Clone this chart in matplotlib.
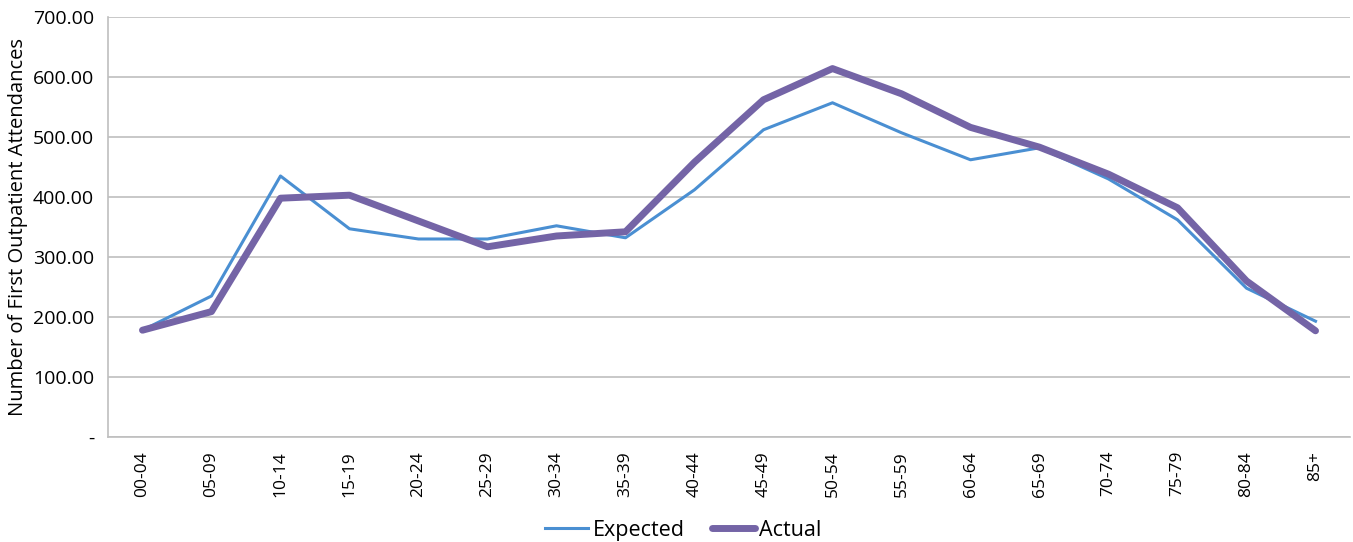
import numpy as np
import matplotlib.pyplot as plt
from matplotlib.ticker import FuncFormatter

plt.rcParams['font.family'] = ['Open Sans', 'DejaVu Sans']

age_bands = ['00-04', '05-09', '10-14', '15-19', '20-24', '25-29', '30-34', '35-39',
             '40-44', '45-49', '50-54', '55-59', '60-64', '65-69', '70-74', '75-79',
             '80-84', '85+']
expected = [178, 235, 435, 347, 330, 330, 352, 332, 412, 512, 557, 507, 462, 482,
            430, 362, 248, 193]
actual = [178, 209, 398, 403, 360, 317, 335, 342, 458, 562, 614, 572, 516, 483,
          438, 382, 260, 177]
y_ticks = [0, 100, 200, 300, 400, 500, 600, 700]

fig = plt.figure(figsize=(13.53, 5.42), dpi=100)
ax = fig.add_axes([0.0798, 0.1937, 0.918, 0.775])

x = np.arange(len(age_bands))
ax.plot(x, expected, color='#4a8fd2', lw=2.2, label='Expected', zorder=3)
ax.plot(x, actual, color='#7464a6', lw=5, label='Actual', zorder=4,
        solid_joinstyle='round', solid_capstyle='round')

ax.set_xlim(-0.5, len(age_bands) - 0.5)
ax.set_ylim(0, 700)
ax.set_yticks(y_ticks)
ax.yaxis.set_major_formatter(FuncFormatter(lambda v, p: '-' if v == 0 else f'{v:.2f}'))
ax.set_xticks(x)
ax.set_xticklabels(age_bands, rotation=90)
ax.tick_params(length=0, colors='#000000')
ax.tick_params(axis='x', pad=10, labelsize=12.5)
ax.tick_params(axis='y', pad=10, labelsize=14)

ax.grid(axis='y', color='#bfbfbf', lw=1.2)
ax.set_axisbelow(True)
for s in ['top', 'right']:
    ax.spines[s].set_visible(False)
for s in ['left', 'bottom']:
    ax.spines[s].set_color('#bfbfbf')
    ax.spines[s].set_linewidth(1.2)

ax.set_ylabel('Number of First Outpatient Attendances', fontsize=14.5)
ax.yaxis.set_label_coords(-0.064, 0.5)

fig.legend(loc='lower center', bbox_to_anchor=(0.505, -0.033), ncol=2, frameon=False,
           fontsize=15.5, handlelength=2.0, handletextpad=0.2, columnspacing=1.25)

fig.savefig('out.png', dpi=100)
